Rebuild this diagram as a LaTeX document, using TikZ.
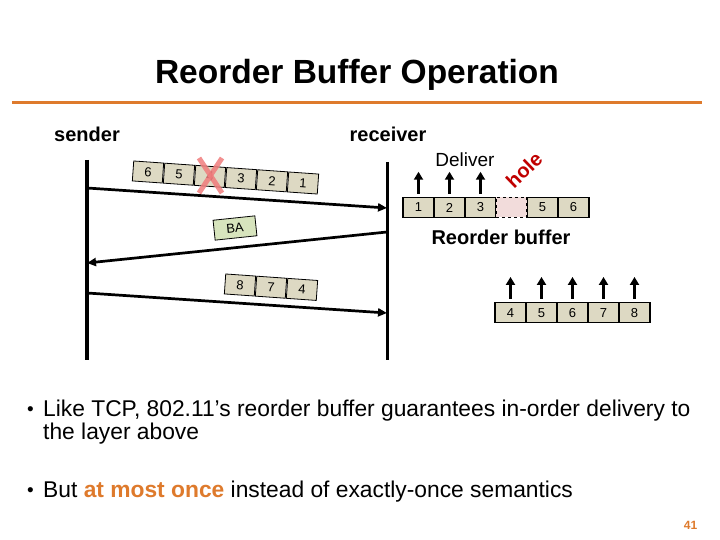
\documentclass[tikz,border=0pt]{standalone}
\usepackage{fontspec}
\setmainfont{Liberation Sans}
\usetikzlibrary{arrows.meta,positioning}
\definecolor{slideink}{HTML}{000000}
\definecolor{slideorange}{HTML}{DE7A2C}
\definecolor{pktfill}{HTML}{DDD9C3}
\definecolor{ackfill}{HTML}{D7E4BD}
\definecolor{holefill}{HTML}{F2DCDB}
\definecolor{holered}{HTML}{C00000}
\definecolor{lossred}{HTML}{F07C7C}

\begin{document}
\begin{tikzpicture}[
  x=1pt,
  y=-1pt,
  every node/.style={text=slideink},
  lifeline/.style={slideink, line width=3.2pt},
  msg/.style={slideink, line width=2.7pt, -{Triangle[length=9pt,width=8pt]}},
  upline/.style={slideink, line width=2.6pt, -{Triangle[length=8pt,width=9pt]}},
  lossx/.style={lossred, line width=5pt, opacity=0.85},
  pkt/.style={draw=slideink, line width=0.8pt, fill=pktfill, minimum width=30pt,
              minimum height=20pt, inner sep=0pt, font=\fontsize{13}{13}\selectfont},
  ack/.style={pkt, fill=ackfill, minimum width=42pt},
  cell/.style={draw=slideink, line width=1.5pt, fill=pktfill, minimum width=31pt,
               minimum height=20pt, inner sep=0pt, font=\fontsize{13}{13}\selectfont},
  holecell/.style={cell, dashed, fill=holefill},
  hdr/.style={anchor=base, font=\bfseries\fontsize{20}{20}\selectfont},
  bodytxt/.style={anchor=base west, inner sep=0pt, font=\fontsize{22.8}{24}\selectfont},
  dotmark/.style={anchor=base west, inner sep=0pt, font=\fontsize{19}{19}\selectfont}
]
  \useasboundingbox (0,0) rectangle (720,540);

  % ---- title ----
  \node[anchor=base, font=\bfseries\fontsize{33.5}{36}\selectfont] (title) at (357,84)
    {Reorder Buffer Operation};
  \coordinate (ruleL) at (12,102.5);
  \coordinate (ruleR) at (702,102.5);
  \draw[slideorange, line width=2.6pt] (ruleL) -- (ruleR);

  % ---- lifelines ----
  \node[hdr] (snd) at (87,142) {sender};
  \node[hdr] (rcv) at (388,142) {receiver};
  \coordinate (sndtop) at (87,160);
  \coordinate (sndbot) at (87,360);
  \coordinate (rcvtop) at (387.5,162);
  \coordinate (rcvbot) at (387.5,360);
  \draw[lifeline] (sndtop) -- (sndbot);
  \draw[lifeline] (rcvtop) -- (rcvbot);

  % ---- messages ----
  \coordinate (s1) at (87,188);
  \coordinate (r1) at (387,208);
  \coordinate (r2) at (387,232);
  \coordinate (s2) at (87,263);
  \coordinate (s3) at (87,293);
  \coordinate (r3) at (387,313);
  \draw[msg] (s1) -- (r1);
  \draw[msg] (r2) -- (s2);
  \draw[msg] (s3) -- (r3);

  % ---- frames in flight ----
  \foreach \n [count=\i] in {6,5,4,3,2,1}
    \node[pkt, rotate=-4] (p\n) at ({148+31*(\i-1)}, {172+2.2*(\i-1)}) {\n};
  \draw[lossx] (199,158) -- (222,193);
  \draw[lossx] (222,158) -- (199,193);
  \node[ack, rotate=6] (ba) at (235,228) {BA};
  \foreach \n [count=\i] in {8,7,4}
    \node[pkt, rotate=-4] (q\n) at ({240+31*(\i-1)}, {285+2.2*(\i-1)}) {\n};

  % ---- reorder buffer, first state ----
  \foreach \n [count=\i] in {1,2,3}
    \node[cell] (b\n) at ({418.5+31*(\i-1)}, 207.5) {\n};
  \node[cell] (b5) at (542.5,207.5) {5};
  \node[cell] (b6) at (573.5,207.5) {6};
  \node[holecell] (bh) at (511.5,207.5) {};
  \foreach \n in {1,2,3}
    \draw[upline] ([yshift=3pt]b\n.north) -- ([yshift=25pt]b\n.north);
  \node[anchor=base, font=\fontsize{19}{19}\selectfont] (deliver) at (465,167) {Deliver};
  \node[rotate=44, inner sep=0pt, text=holered, font=\bfseries\fontsize{20}{20}\selectfont]
    (hole) at (524,170) {hole};
  \node[hdr] (rbuf) at (501,244) {Reorder buffer};

  % ---- reorder buffer, after retransmission ----
  \foreach \n [count=\i] in {4,...,8} {
    \node[cell] (c\n) at ({510.5+31*(\i-1)}, 312.7) {\n};
    \draw[upline] ([yshift=3pt]c\n.north) -- ([yshift=25pt]c\n.north);
  }

  % ---- bullets ----
  \node[dotmark] (dot1) at (27,415) {•};
  \node[bodytxt] (txt1) at (43,416)
    {Like TCP, 802.11’s reorder buffer guarantees in-order delivery to};
  \node[bodytxt] (txt1b) at (43,439) {the layer above};
  \node[dotmark] (dot2) at (27,496) {•};
  \node[bodytxt] (txt2) at (43,497)
    {But \textcolor{slideorange}{\bfseries at most once} instead of exactly-once semantics};

  % ---- page number ----
  \node[anchor=base, text=slideorange, font=\bfseries\fontsize{12}{12}\selectfont] (pgno)
    at (690.5,529.5) {41};
\end{tikzpicture}
\end{document}
